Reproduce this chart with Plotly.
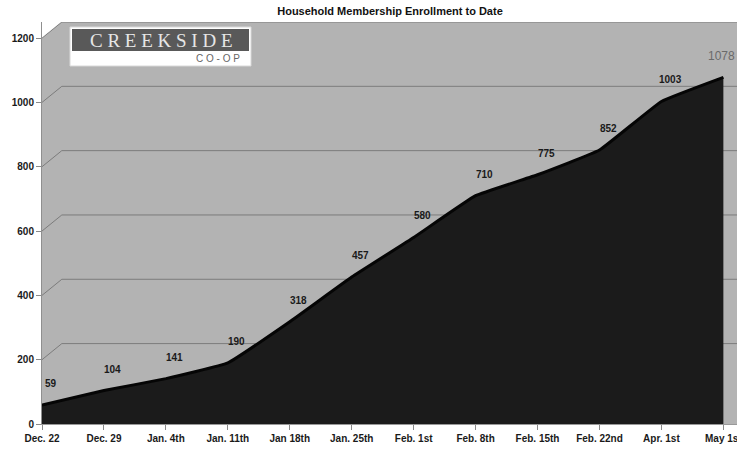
import plotly.graph_objects as go

categories = ["Dec. 22", "Dec. 29", "Jan. 4th", "Jan. 11th", "Jan 18th", "Jan. 25th",
              "Feb. 1st", "Feb. 8th", "Feb. 15th", "Feb. 22nd", "Apr. 1st", "May 1st"]
members = [59, 104, 141, 190, 318, 457, 580, 710, 775, 852, 1003, 1078]
y_ticks = [0, 200, 400, 600, 800, 1000, 1200]

title = "Household Membership Enrollment to Date"
FONT = "Liberation Sans"

idx = list(range(len(categories)))
fig = go.Figure()

# area
fig.add_trace(go.Scatter(
    x=idx, y=members, mode="lines", fill="tozeroy",
    fillcolor="#1b1b1b", line=dict(color="#050505", width=3, shape="spline", smoothing=0.3),
    hoverinfo="skip", showlegend=False))

# value labels
for i, v in zip(idx[:-1], members[:-1]):
    fig.add_annotation(x=i, y=v, text=str(v), showarrow=False, xanchor="center",
                       yanchor="bottom", yshift=14, xshift=9,
                       font=dict(family=FONT, size=10, color="#1a1a1a", weight="bold"))
fig.add_annotation(x=idx[-1], y=members[-1], text=str(members[-1]), showarrow=False,
                   xanchor="center", yanchor="bottom", yshift=12, xshift=-2,
                   font=dict(family=FONT, size=12, color="#6a6a6a"))

shapes = []
xmax = 11.22
# back-wall gridlines with 3D diagonal stubs
for v in y_ticks[1:]:
    shapes.append(dict(type="path", xref="x", yref="y",
                       path=f"M 0,{v} L 0.32,{v+50} L {xmax},{v+50}",
                       line=dict(color="#7c7c7c", width=1), layer="below"))
# white corner cut at top-left
shapes.append(dict(type="path", xref="x", yref="y",
                   path="M -0.01,1200 L 0.32,1252 L -0.01,1252 Z",
                   fillcolor="white", line=dict(width=0), layer="above"))


def py(pix):
    return (424 - pix) / 402


def px(pix):
    return (pix - 42) / 695


# logo
shapes.append(dict(type="rect", xref="paper", yref="paper",
                   x0=px(70), x1=px(251), y0=py(66), y1=py(27),
                   fillcolor="white", line=dict(color="#d8d8d8", width=1), layer="above"))
shapes.append(dict(type="rect", xref="paper", yref="paper",
                   x0=px(72), x1=px(249), y0=py(51), y1=py(29),
                   fillcolor="#595959", line=dict(width=0), layer="above"))
fig.add_annotation(xref="paper", yref="paper", x=px(161), y=py(40),
                   xanchor="center", yanchor="middle",
                   text="C R E E K S I D E", showarrow=False,
                   font=dict(family="Liberation Serif", size=19, color="#e6e6e6"))
fig.add_annotation(xref="paper", yref="paper", x=px(218), y=py(59),
                   xanchor="center", yanchor="middle",
                   text="C O - O P", showarrow=False,
                   font=dict(family="Liberation Sans", size=10, color="#666666"))

fig.update_layout(
    width=737, height=451,
    margin=dict(l=42, r=0, t=22, b=27),
    paper_bgcolor="white", plot_bgcolor="#b3b3b3",
    title=dict(text=title, x=390 / 737, xanchor="center", y=0.975, yanchor="middle",
               font=dict(family=FONT, size=11, color="#111111", weight="bold")),
    shapes=shapes,
    xaxis=dict(range=[0, xmax], tickvals=idx, ticktext=categories, automargin=False,
               showgrid=False, zeroline=False, ticks="outside", ticklen=5,
               tickcolor="#8a8a8a", showline=True, linecolor="#999999",
               ticklabeloverflow="allow",
               tickfont=dict(family=FONT, size=10, color="#1a1a1a", weight="bold")),
    yaxis=dict(range=[0, 1250], tickvals=y_ticks, showgrid=False, zeroline=False,
               automargin=False,
               ticks="outside", ticklen=5, tickcolor="#8a8a8a",
               showline=True, linecolor="#8f8f8f",
               tickfont=dict(family=FONT, size=10, color="#1a1a1a", weight="bold")),
)

fig.write_html("out.html")
